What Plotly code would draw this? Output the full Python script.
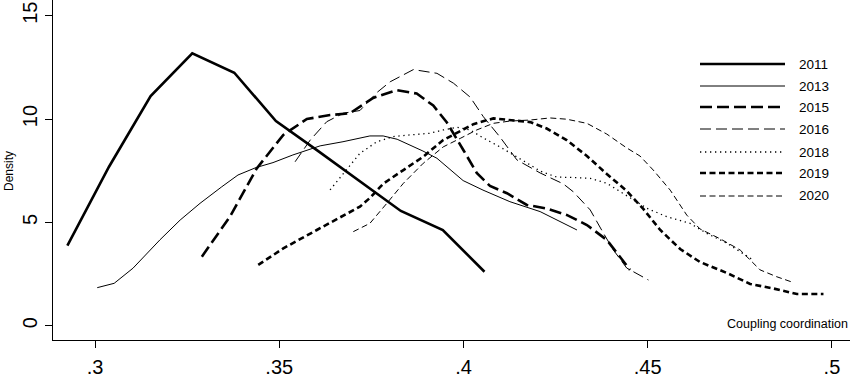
import plotly.graph_objects as go

# ---------------- data ----------------
years = ["2011", "2013", "2015", "2016", "2018", "2019", "2020"]

x_2011 = [0.2925, 0.3038, 0.3151, 0.3264, 0.3378, 0.3491, 0.3604, 0.3717, 0.3830, 0.3944, 0.4057]
y_2011 = [3.87, 7.69, 11.11, 13.18, 12.24, 9.90, 8.47, 7.02, 5.55, 4.63, 2.61]

x_2013 = [0.3006, 0.3052, 0.3103, 0.3176, 0.3231, 0.3285, 0.3344, 0.3388, 0.3437, 0.3483, 0.3537, 0.3575,
          0.3611, 0.3673, 0.3746, 0.3782, 0.3820, 0.3890, 0.3928, 0.3999, 0.4053, 0.4126, 0.4208, 0.4308]
y_2013 = [1.84, 2.05, 2.78, 4.15, 5.11, 5.92, 6.72, 7.29, 7.65, 7.89, 8.26, 8.50,
          8.70, 8.90, 9.18, 9.18, 9.02, 8.45, 8.10, 7.02, 6.56, 6.00, 5.52, 4.63]

x_2015 = [0.3290, 0.3366, 0.3439, 0.3511, 0.3575, 0.3638, 0.3692, 0.3755, 0.3819, 0.3873, 0.3918,
          0.3955, 0.4000, 0.4036, 0.4072, 0.4118, 0.4172, 0.4226, 0.4280, 0.4335, 0.4389, 0.4452]
y_2015 = [3.34, 5.27, 7.61, 9.23, 10.00, 10.19, 10.28, 11.02, 11.40, 11.23, 10.65,
          9.83, 8.49, 7.39, 6.76, 6.41, 5.84, 5.67, 5.36, 4.87, 4.15, 2.70]

x_2016 = [0.3543, 0.3584, 0.3629, 0.3674, 0.3719, 0.3765, 0.3801, 0.3864, 0.3928, 0.3973, 0.4018, 0.4054,
          0.4099, 0.4145, 0.4208, 0.4271, 0.4298, 0.4344, 0.4380, 0.4407, 0.4443, 0.4479, 0.4502]
y_2016 = [7.93, 8.98, 9.87, 10.28, 10.41, 11.28, 11.80, 12.39, 12.21, 11.73, 11.06, 10.11,
          9.13, 8.02, 7.39, 6.86, 6.48, 5.60, 4.47, 3.66, 2.79, 2.45, 2.21]

x_2018 = [0.3638, 0.3674, 0.3719, 0.3765, 0.3810, 0.3855, 0.3909, 0.3945, 0.3982, 0.4018, 0.4054, 0.4099,
          0.4145, 0.4181, 0.4208, 0.4253, 0.4298, 0.4344, 0.4389, 0.4443, 0.4498, 0.4552, 0.4615, 0.4660,
          0.4715, 0.4760, 0.4786]
y_2018 = [6.57, 7.37, 8.34, 8.90, 9.15, 9.23, 9.31, 9.47, 9.60, 9.47, 9.08, 8.65,
          8.18, 7.78, 7.48, 7.19, 7.17, 7.13, 6.89, 6.27, 5.68, 5.27, 4.95, 4.47,
          3.99, 3.47, 3.18]

x_2019 = [0.3443, 0.3511, 0.3602, 0.3674, 0.3719, 0.3746, 0.3783, 0.3837, 0.3891, 0.3945, 0.3982, 0.4027,
          0.4081, 0.4135, 0.4181, 0.4226, 0.4280, 0.4335, 0.4389, 0.4443, 0.4488, 0.4534, 0.4588, 0.4642,
          0.4715, 0.4778, 0.4841, 0.4905, 0.4977]
y_2019 = [2.94, 3.74, 4.63, 5.35, 5.76, 6.18, 6.88, 7.53, 8.18, 8.98, 9.32, 9.75,
          10.03, 9.94, 9.85, 9.54, 8.98, 8.21, 7.34, 6.52, 5.65, 4.63, 3.71, 3.08,
          2.55, 2.02, 1.80, 1.53, 1.53]

x_2020 = [0.3701, 0.3746, 0.3792, 0.3837, 0.3891, 0.3945, 0.3991, 0.4036, 0.4081, 0.4126, 0.4181, 0.4235,
          0.4280, 0.4335, 0.4389, 0.4443, 0.4479, 0.4515, 0.4561, 0.4606, 0.4642, 0.4697, 0.4751, 0.4805,
          0.4850, 0.4895]
y_2020 = [4.55, 4.95, 5.92, 6.89, 7.86, 8.65, 9.06, 9.47, 9.79, 9.90, 9.95, 10.05,
          9.99, 9.79, 9.27, 8.60, 8.21, 7.53, 6.56, 5.35, 4.68, 4.20, 3.66, 2.70,
          2.37, 2.09]

x_tick_vals = [0.3, 0.35, 0.4, 0.45, 0.5]
x_tick_text = [".3", ".35", ".4", ".45", ".5"]
y_tick_vals = [0, 5, 10, 15]
y_tick_text = ["0", "5", "10", "15"]

x_title = "Coupling coordination"
y_title = "Density"

# ---------------- styles ----------------
series = [
    (years[0], x_2011, y_2011, dict(width=2.6, dash="solid")),
    (years[1], x_2013, y_2013, dict(width=1.0, dash="solid")),
    (years[2], x_2015, y_2015, dict(width=2.6, dash="12px,5px")),
    (years[3], x_2016, y_2016, dict(width=1.0, dash="11px,5px")),
    (years[4], x_2018, y_2018, dict(width=1.3, dash="1.3px,3.7px")),
    (years[5], x_2019, y_2019, dict(width=2.6, dash="6px,3.5px")),
    (years[6], x_2020, y_2020, dict(width=1.0, dash="6px,3.5px")),
]

W, H = 851, 377
ML, MR, MT, MB = 53, 1, 0, 37
PW, PH = W - ML - MR, H - MT - MB
FONT = "Liberation Sans, Arial, sans-serif"


def px_x(px):
    return (px - ML) / PW


def px_y(py):
    return (H - MB - py) / PH


fig = go.Figure()
for name, xs, ys, st in series:
    fig.add_trace(go.Scatter(x=xs, y=ys, mode="lines", name=name, showlegend=False,
                             line=dict(color="black", width=st["width"], dash=st["dash"])))

# manual legend (long line samples like the reference)
leg_y = [64, 86, 107, 129, 152, 173, 196]
shapes = []
annotations = []
for (name, xs, ys, st), ly in zip(series, leg_y):
    shapes.append(dict(type="line", xref="paper", yref="paper",
                       x0=px_x(700), x1=px_x(785), y0=px_y(ly), y1=px_y(ly),
                       line=dict(color="black", width=st["width"], dash=st["dash"])))
    annotations.append(dict(text=name, xref="paper", yref="paper", x=px_x(797), y=px_y(ly),
                            xanchor="left", yanchor="middle", showarrow=False,
                            font=dict(family=FONT, size=13.5, color="black")))

annotations.append(dict(text=x_title, xref="paper", yref="paper", x=1.0, y=px_y(324),
                        xanchor="right", yanchor="middle", showarrow=False,
                        font=dict(family=FONT, size=12.5, color="black")))
annotations.append(dict(text=y_title, xref="paper", yref="paper", x=px_x(9), y=px_y(171),
                        xanchor="center", yanchor="middle", showarrow=False, textangle=-90,
                        font=dict(family=FONT, size=12, color="black")))

fig.update_layout(
    width=W, height=H,
    margin=dict(l=ML, r=MR, t=MT, b=MB, pad=0),
    plot_bgcolor="white", paper_bgcolor="white",
    shapes=shapes, annotations=annotations,
    font=dict(family=FONT, color="black"),
    xaxis=dict(range=[0.2886, 0.5049], showgrid=False, zeroline=False,
               showline=True, linecolor="black", linewidth=1.3,
               ticks="outside", ticklen=7, tickwidth=1.3, tickcolor="black",
               tickvals=x_tick_vals, ticktext=x_tick_text, ticklabelstandoff=2,
               tickfont=dict(family=FONT, size=20, color="black")),
    yaxis=dict(range=[-0.692, 15.757], showgrid=False, zeroline=False,
               showline=True, linecolor="black", linewidth=1.3,
               ticks="outside", ticklen=7, tickwidth=1.3, tickcolor="black",
               tickvals=y_tick_vals, ticktext=y_tick_text, tickangle=-90,
               tickfont=dict(family=FONT, size=20, color="black")),
)

fig.write_html(
    "out.html",
    config={"displayModeBar": False},
    post_script="document.body.style.margin='0';document.body.style.padding='0';document.body.style.overflow='hidden';",
)
